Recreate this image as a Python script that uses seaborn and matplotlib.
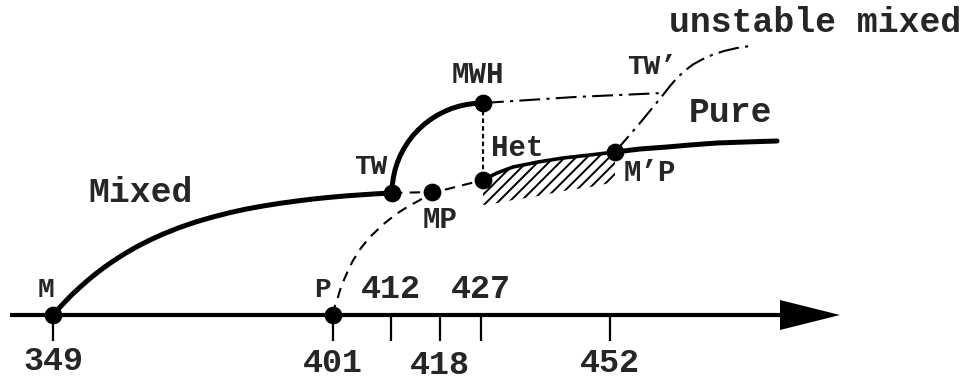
import numpy as np
import matplotlib
matplotlib.use('Agg')
import matplotlib.pyplot as plt
import seaborn as sns

sns.set_style('white')
plt.rcParams['font.family'] = ['Liberation Mono', 'DejaVu Sans Mono']
plt.rcParams['font.weight'] = 'bold'
plt.rcParams['hatch.linewidth'] = 1.4
plt.rcParams['lines.solid_joinstyle'] = 'round'
plt.rcParams['lines.solid_capstyle'] = 'round'

# schematic axis: x = position along the temperature axis, y = height above the axis
tick_pos = [53, 333, 391, 440, 481, 610]
tick_labels = ['349', '401', '412', '418', '427', '452']

# stable mixed branch  M -> TW
mixed_x = [53, 59, 65, 72, 80, 88, 96, 104, 113, 125, 137, 150, 163, 179, 195,
           212, 230, 247, 263, 280, 297, 313, 330, 347, 363, 378, 392]
mixed_y = [0, 6.8, 13.2, 20.4, 27.8, 34.9, 41.4, 47.5, 53.8, 61.5, 68.4, 75, 80.9,
           87.3, 92.8, 97.8, 102.4, 106.1, 109, 111.7, 114, 116, 117.7, 119.2,
           120.3, 121.3, 122]
# TW -> MWH
tw_x = [392, 392.3, 393.4, 395.1, 397.5, 400.5, 404.2, 408.5, 413.3, 418.7, 424.5,
        430.8, 437.5, 444.5, 451.9, 459.4, 467.2, 475.1, 483]
tw_y = [122, 129.8, 137.6, 145.3, 152.8, 160, 167, 173.6, 179.9, 185.6, 190.9,
        195.7, 199.9, 203.5, 206.6, 208.9, 210.6, 211.6, 212]
# MWH -> TW' (dash-dot)
mwh_x = [483, 575, 663]
mwh_y = [212, 218, 222]
# pure branch from P (dashed) -> MP -> Het
pure_unst_x = [333, 335, 338, 341, 345, 349, 353, 361, 370, 383, 397, 408, 420, 432, 483]
pure_unst_y = [0, 9, 18, 28, 37.5, 46.5, 54.5, 67, 78, 90.5, 101.5, 108.5, 115, 122, 135]
# TW -> MP (dashed)
twmp_x = [392, 432]
twmp_y = [122, 123]
# Het -> M'P
het_x = [483, 497, 513, 538, 563, 590, 615]
het_y = [135, 142, 148, 153, 157, 160, 163]
het_low = [110, 112, 115, 119, 124, 128, 133]
# M'P -> Pure
pure_x = [615, 640, 667, 690, 717, 745, 777]
pure_y = [163, 166, 168, 170, 172, 173, 174]
# unstable mixed (dash-dot)
unst_x = [615, 640, 663, 670, 677, 685, 693, 702, 712, 724, 737, 750]
unst_y = [163, 192, 220, 229, 237, 244.5, 250.5, 255.5, 260, 264, 267, 269]
# Het vertical
vert_x = [483, 483]
vert_y = [212, 135]

pts_x = [53, 333, 392, 432, 483, 483, 615]
pts_y = [0, 0, 122, 123, 212, 135, 163]

fig = plt.figure(figsize=(9.69, 3.79), dpi=100)
ax = fig.add_axes([0, 0, 1, 1])
ax.set_xlim(0, 969)
ax.set_ylim(315 - 379, 315)
ax.axis('off')

# axis with arrow
ax.plot([10, 785], [0, 0], color='black', lw=3, solid_capstyle='butt')
ax.fill([780, 840, 780], [15, 0, -15], color='black', lw=0)
for p in tick_pos:
    ax.plot([p, p], [0, -26], color='black', lw=1.6, solid_capstyle='butt')

kw = dict(color='black', sort=False, estimator=None, ax=ax, legend=False)
sns.lineplot(x=mixed_x, y=mixed_y, lw=3.6, **kw)
sns.lineplot(x=tw_x, y=tw_y, lw=3.6, **kw)
sns.lineplot(x=pure_x, y=pure_y, lw=3.6, **kw)
sns.lineplot(x=het_x, y=het_y, lw=2.6, **kw)
sns.lineplot(x=mwh_x, y=mwh_y, lw=1.5, linestyle=(0, (10, 3, 1.5, 3)), **kw)
sns.lineplot(x=unst_x, y=unst_y, lw=1.5, linestyle=(0, (10, 3, 1.5, 3)), **kw)
sns.lineplot(x=pure_unst_x, y=pure_unst_y, lw=1.5, linestyle=(0, (5, 3.5)), **kw)
sns.lineplot(x=twmp_x, y=twmp_y, lw=1.5, linestyle=(0, (5, 3.5)), **kw)
sns.lineplot(x=vert_x, y=vert_y, lw=1.5, linestyle=(0, (2.2, 1.5)), **kw)

ax.fill_between(het_x, het_low, het_y, facecolor='none', edgecolor='black',
                hatch='///', lw=0)

sns.scatterplot(x=pts_x, y=pts_y, s=140, color='black', edgecolor='black',
                zorder=5, ax=ax, legend=False)

big = dict(fontsize=25, fontweight='bold', ha='center', va='center')
mid = dict(fontsize=21, fontweight='bold', ha='center', va='center')
small = dict(fontsize=20, fontweight='bold', ha='center', va='center')

ax.text(815, 293, 'unstable mixed', **big)
ax.text(141, 122, 'Mixed', **big)
ax.text(731, 203, 'Pure', **big)
ax.text(517, 167, 'Het', **mid)
ax.text(650, 142, "M\u2019P", **mid)
ax.text(478, 240, 'MWH', **mid)
ax.text(440, 95, 'MP', **mid)
ax.text(371, 148, 'TW', **small)
ax.text(652, 248, "TW\u2019", **small)
ax.text(46, 25, 'M', **small)
ax.text(322, 25, 'P', **small)

lab_y = [-46, -48, 26, -50, 26, -49]
for p, t, yy in zip(tick_pos, tick_labels, lab_y):
    ax.text(p, yy, t, **dict(big, fontsize=24))

fig.savefig('out.png', dpi=100)
